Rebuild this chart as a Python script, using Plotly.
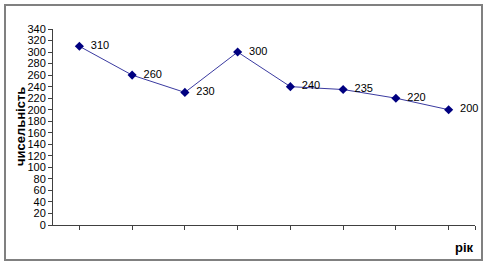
import plotly.graph_objects as go

# Data
categories = [1, 2, 3, 4, 5, 6, 7, 8]
values = [310, 260, 230, 300, 240, 235, 220, 200]
y_ticks = list(range(0, 341, 20))
y_title = "чисельність"
x_title = "рік"

x_idx = list(range(len(categories)))

fig = go.Figure()
fig.add_trace(go.Scatter(
    x=x_idx, y=values,
    mode="lines+markers+text",
    line=dict(color="#3a3aa0", width=1),
    marker=dict(symbol="diamond", size=7, color="#000080"),
    text=["  " + str(v) for v in values],
    textposition="middle right",
    textfont=dict(family="Arial, Liberation Sans", size=11, color="#000000"),
    cliponaxis=False,
    showlegend=False,
))

W, H = 487, 269
L, R, T, B = 53, 12, 29, 44
pw = W - L - R
ph = H - T - B

def px_x(p):
    return (p - L) / pw

def px_y(p):
    return 1 - (p - T) / ph

fig.update_layout(
    width=W, height=H,
    margin=dict(l=L, r=R, t=T, b=B),
    paper_bgcolor="white", plot_bgcolor="white",
    font=dict(family="Arial, Liberation Sans", size=11, color="#000000"),
    xaxis=dict(
        range=[-0.5, len(categories) - 0.5],
        tickvals=x_idx + [len(categories) - 0.5],
        ticktext=["" for _ in range(len(categories) + 1)],
        ticks="outside", ticklen=4, tickcolor="#404040",
        showline=True, linecolor="#404040", linewidth=1,
        showgrid=False, zeroline=False, fixedrange=True,
    ),
    yaxis=dict(
        range=[0, 340],
        tickvals=y_ticks,
        ticks="outside", ticklen=4, tickcolor="#404040",
        showline=True, linecolor="#404040", linewidth=1,
        showgrid=False, zeroline=False,
        tickfont=dict(family="Arial, Liberation Sans", size=11, color="#000000"),
    ),
    shapes=[dict(
        type="rect", xref="paper", yref="paper",
        x0=px_x(5), x1=px_x(482), y0=px_y(260), y1=px_y(5),
        line=dict(color="#808080", width=2), fillcolor="rgba(0,0,0,0)",
        layer="below",
    )],
    annotations=[
        dict(text=y_title, xref="paper", yref="paper",
             x=px_x(20), y=px_y(127), textangle=-90, showarrow=False,
             xanchor="center", yanchor="middle",
             font=dict(family="Arial, Liberation Sans", size=13, color="#000000", weight="bold")),
        dict(text=x_title, xref="paper", yref="paper",
             x=px_x(476), y=px_y(247), showarrow=False,
             xanchor="right", yanchor="middle",
             font=dict(family="Arial, Liberation Sans", size=13, color="#000000", weight="bold")),
    ],
)

fig.write_html("out.html")
